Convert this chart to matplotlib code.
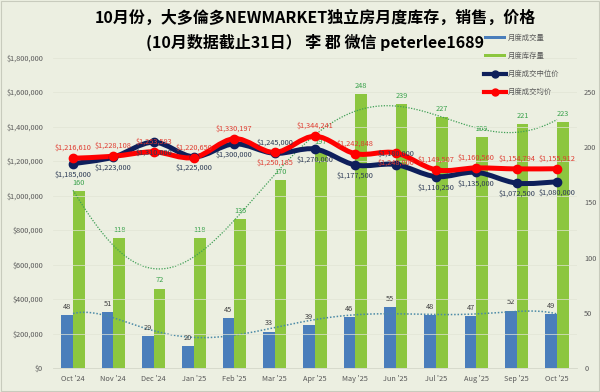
import numpy as np
import matplotlib
matplotlib.use("Agg")
import matplotlib.pyplot as plt
from matplotlib.path import Path
from matplotlib.patches import PathPatch
from matplotlib.lines import Line2D
from matplotlib.patches import Patch

plt.rcParams['font.family'] = ['Noto Sans CJK SC', 'DejaVu Sans']

# -----------------------------
# Data
# -----------------------------
months = ["Oct '24", "Nov '24", "Dec '24", "Jan '25", "Feb '25", "Mar '25", "Apr '25",
          "May '25", "Jun '25", "Jul '25", "Aug '25", "Sep '25", "Oct '25"]
sales = [48, 51, 29, 20, 45, 33, 39, 46, 55, 48, 47, 52, 49]
inventory = [160, 118, 72, 118, 135, 170, 197, 248, 239, 227, 209, 221, 223]
median_price = [1185000, 1223000, 1310000, 1225000, 1300000, 1245000, 1270000,
                1177500, 1180000, 1110250, 1135000, 1072500, 1080000]
mean_price = [1216610, 1228108, 1253593, 1220650, 1330197, 1250185, 1344241,
              1242848, 1248000, 1149507, 1160560, 1154794, 1155912]

# label side: +1 above the point, -1 below
median_side = [-1, -1, -1, -1, -1, 1, -1, -1, 1, -1, -1, -1, -1]
mean_side = [1, 1, 1, 1, 1, -1, 1, 1, -1, 1, 1, 1, 1]

BG = "#ecefe1"
BLUE = "#4a7ebb"
GREEN = "#8cc63f"
NAVY = "#0e1f5b"
RED = "#ff0000"
GRAY = "#595959"

x = np.arange(len(months))


def smooth_path(xs, ys):
    # bezier control points from neighbouring points, drawn by matplotlib's path renderer
    pts = np.column_stack([xs, ys]).astype(float)
    verts = [pts[0]]
    codes = [Path.MOVETO]
    n = len(pts)
    for i in range(n - 1):
        p0 = pts[i - 1] if i > 0 else pts[i]
        p1 = pts[i]
        p2 = pts[i + 1]
        p3 = pts[i + 2] if i + 2 < n else pts[i + 1]
        c1 = p1 + (p2 - p0) / 6.0
        c2 = p2 - (p3 - p1) / 6.0
        verts += [c1, c2, p2]
        codes += [Path.CURVE4] * 3
    return Path(verts, codes)


fig = plt.figure(figsize=(6, 3.92), dpi=100, facecolor=BG)
ax_p = fig.add_axes([0.088, 0.061, 0.874, 0.792])
ax_c = ax_p.twinx()
ax_p.set_zorder(ax_c.get_zorder() + 1)
ax_p.patch.set_visible(False)
ax_c.set_facecolor(BG)

# -----------------------------
# Bars (count axis, right)
# -----------------------------
bw = 0.29
ax_c.bar(x - bw / 2, sales, width=bw, color=BLUE, zorder=2)
ax_c.bar(x + bw / 2, inventory, width=bw, color=GREEN, zorder=2)

for xi, v in zip(x, sales):
    ax_c.annotate(str(v), (xi - bw / 2, v), xytext=(0, 3), textcoords="offset points",
                  ha="center", va="bottom", fontsize=5.3, color="#404040", zorder=5)
for xi, v in zip(x, inventory):
    ax_c.annotate(str(v), (xi + bw / 2, v), xytext=(0, 3), textcoords="offset points",
                  ha="center", va="bottom", fontsize=5.3, color="#3aa24c", zorder=5)

# polynomial trendlines
xf = np.linspace(0, len(months) - 1, 200)
inv_fit = np.polyval(np.polyfit(x, inventory, 6), xf)
sal_fit = np.polyval(np.polyfit(x, sales, 6), xf)
ax_c.plot(xf, inv_fit, linestyle=(0, (1, 1.2)), color="#3f9f55", linewidth=0.9, zorder=3)
ax_c.plot(xf, sal_fit, linestyle=(0, (1, 1.2)), color="#4b8aa6", linewidth=1.1, zorder=3)

ax_c.set_ylim(0, 281)
ax_c.set_yticks([0, 50, 100, 150, 200, 250])
ax_c.tick_params(axis="y", length=0, labelsize=5.3, labelcolor=GRAY, pad=5)

# -----------------------------
# Price lines (left axis)
# -----------------------------
for vals, col in [(median_price, NAVY), (mean_price, RED)]:
    ax_p.add_patch(PathPatch(smooth_path(x, vals), facecolor="none", edgecolor=col,
                             linewidth=3.6, capstyle="round", joinstyle="round", zorder=4))
    ax_p.plot(x, vals, linestyle="none", marker="o", markersize=6, color=col, zorder=5)

for xi, v, s in zip(x, median_price, median_side):
    ax_p.annotate(f"${v:,}", (xi, v), xytext=(0, 5 * s), textcoords="offset points",
                  ha="center", va="bottom" if s > 0 else "top", fontsize=5.3,
                  color="#2d3b55", zorder=6)
for xi, v, s in zip(x, mean_price, mean_side):
    ax_p.annotate(f"${v:,}", (xi, v), xytext=(0, 4.5 * s), textcoords="offset points",
                  ha="center", va="bottom" if s > 0 else "top", fontsize=5.3,
                  color="#e03c31", zorder=6)

ax_p.set_ylim(0, 1800000)
ax_p.set_yticks(np.arange(0, 1800001, 200000))
ax_p.set_yticklabels([f"${int(t):,}" for t in np.arange(0, 1800001, 200000)])
ax_p.tick_params(axis="y", length=0, labelsize=5.3, labelcolor=GRAY, pad=7)
ax_p.set_xlim(-0.5, len(months) - 0.5)
ax_p.set_xticks(x)
ax_p.set_xticklabels(months)
ax_p.tick_params(axis="x", length=0, labelsize=5.3, labelcolor=GRAY, pad=5)

for t in np.arange(200000, 1800001, 200000):
    ax_p.axhline(t, color="#e1e4d5", linewidth=0.5, zorder=0)

for a in (ax_p, ax_c):
    for sp in a.spines.values():
        sp.set_visible(False)
ax_p.spines["bottom"].set_visible(True)
ax_p.spines["bottom"].set_color("#d4d7c8")
ax_p.spines["bottom"].set_linewidth(0.6)

# -----------------------------
# Title
# -----------------------------
fig.text(0.525, 0.955, "10月份，大多倫多NEWMARKET独立房月度库存，销售，价格",
         ha="center", va="center", fontsize=11.5, fontweight="bold", color="black")
fig.text(0.525, 0.893, "(10月数据截止31日） 李 郡 微信 peterlee1689",
         ha="center", va="center", fontsize=11.5, fontweight="bold", color="black")

# -----------------------------
# Legend
# -----------------------------
handles = [
    Patch(facecolor=BLUE, edgecolor="none"),
    Patch(facecolor=GREEN, edgecolor="none"),
    Line2D([], [], color=NAVY, linewidth=3, marker="o", markersize=5),
    Line2D([], [], color=RED, linewidth=3, marker="o", markersize=5),
]
labels = ["月度成交量", "月度库存量", "月度成交中位价", "月度成交均价"]
fig.legend(handles, labels, loc="upper left", bbox_to_anchor=(0.795, 0.93),
           frameon=False, fontsize=5.3, labelcolor=GRAY, handlelength=3.0,
           handleheight=0.35, labelspacing=1.35, handletextpad=0.35)

fig.patches.append(plt.Rectangle((0.002, 0.002), 0.996, 0.996, transform=fig.transFigure,
                                 fill=False, edgecolor="#c8cbbd", linewidth=0.8))

plt.savefig("out.png", dpi=100, facecolor=BG)
